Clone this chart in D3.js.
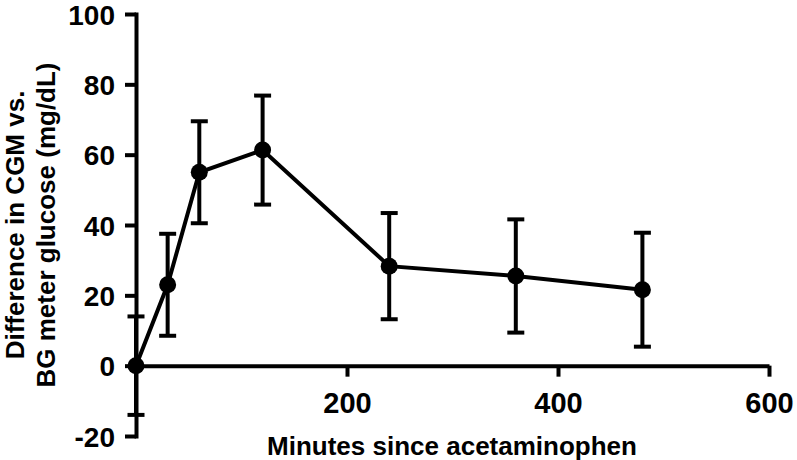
<!DOCTYPE html>
<html>
<head>
<meta charset="utf-8">
<script src="https://cdn.jsdelivr.net/npm/d3@7"></script>
<style>
  body { margin: 0; background: #fff; }
  svg text { font-family: "Liberation Sans", Arial, sans-serif; font-weight: bold; fill: #000; }
</style>
</head>
<body>
<div id="chart"></div>
<script>
// minutes after the acetaminophen dose
const minutes = [0, 30, 60, 120, 240, 360, 480];
// mean difference CGM - BG meter (mg/dL) and error bar half-width
const meanDiff = [0, 23, 55, 61.3, 28.3, 25.5, 21.6];
const errDiff = [14, 14.5, 14.5, 15.5, 15.1, 16.1, 16.2];
const xTicks = [200, 400, 600];
const yTicks = [-20, 0, 20, 40, 60, 80, 100];

const width = 797;
const height = 460;

const svg = d3.select('#chart').append('svg')
    .attr('width', width)
    .attr('height', height);

const x = d3.scaleLinear().domain([0, 600]).range([136, 769]);
const y = d3.scaleLinear().domain([-20, 100]).range([436, 14]);

// plain hyphen for negatives, like the original
const fmt = d => String(d);

// y axis
const yAxis = svg.append('g')
    .attr('transform', `translate(${x(0)},0)`)
    .call(d3.axisLeft(y).tickValues(yTicks).tickFormat(fmt).tickSize(11).tickPadding(10).tickSizeOuter(0));
yAxis.select('.domain').attr('stroke-width', 4).attr('stroke-linecap', 'square');
yAxis.selectAll('.tick line').attr('stroke-width', 4);
yAxis.selectAll('.tick text').style('font-size', '28px').attr('dy', '0.36em');

// x axis sits on y = 0
const xAxis = svg.append('g')
    .attr('transform', `translate(0,${y(0)})`)
    .call(d3.axisBottom(x).tickValues(xTicks).tickFormat(fmt).tickSize(11).tickPadding(16).tickSizeOuter(0));
xAxis.select('.domain').attr('stroke-width', 4);
xAxis.selectAll('.tick line').attr('stroke-width', 4);
xAxis.selectAll('.tick text').style('font-size', '29px');

// axis titles
svg.append('text')
    .attr('x', 452)
    .attr('y', 455)
    .attr('text-anchor', 'middle')
    .style('font-size', '26px')
    .text('Minutes since acetaminophen');

const yTitle = svg.append('text')
    .attr('transform', `translate(0,${y(40)}) rotate(-90)`)
    .attr('text-anchor', 'middle')
    .style('font-size', '26px');
yTitle.append('tspan').attr('x', 0).attr('y', 24).text('Difference in CGM vs.');
yTitle.append('tspan').attr('x', 0).attr('y', 55).text('BG meter glucose (mg/dL)');

const points = minutes.map((m, i) => ({ m, v: meanDiff[i], e: errDiff[i] }));

// error bars
const bars = svg.append('g').attr('stroke', '#000').attr('stroke-width', 4);
points.forEach(d => {
    bars.append('line')
        .attr('x1', x(d.m)).attr('x2', x(d.m))
        .attr('y1', y(d.v + d.e)).attr('y2', y(d.v - d.e));
    [d.v + d.e, d.v - d.e].forEach(c => {
        bars.append('line')
            .attr('x1', x(d.m) - 8.5).attr('x2', x(d.m) + 8.5)
            .attr('y1', y(c)).attr('y2', y(c));
    });
});

// mean line
svg.append('path')
    .datum(points)
    .attr('fill', 'none')
    .attr('stroke', '#000')
    .attr('stroke-width', 4)
    .attr('d', d3.line().x(d => x(d.m)).y(d => y(d.v)));

svg.append('g').selectAll('circle')
    .data(points)
    .enter().append('circle')
    .attr('cx', d => x(d.m))
    .attr('cy', d => y(d.v))
    .attr('r', 8.5)
    .attr('fill', '#000');
</script>
</body>
</html>
